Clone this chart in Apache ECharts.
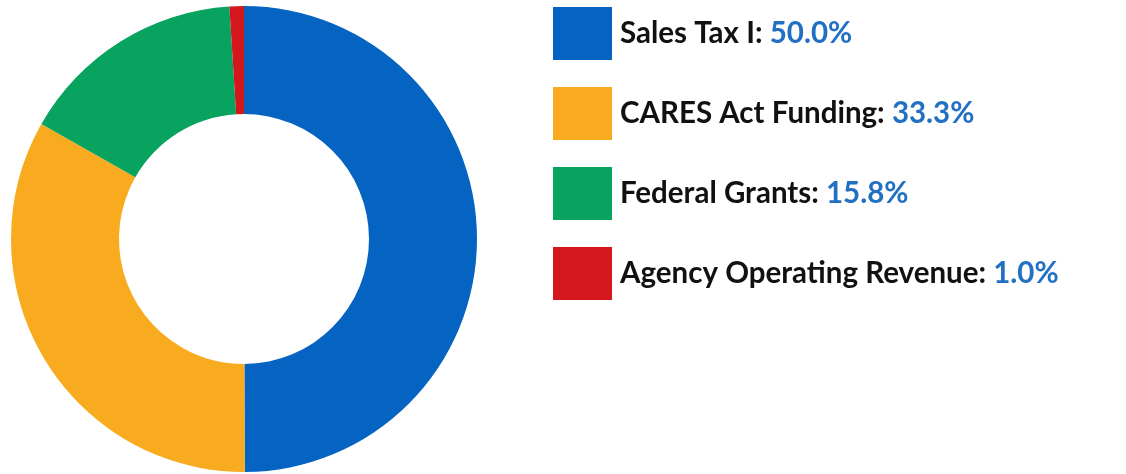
<!DOCTYPE html>
<html>
<head>
<meta charset="utf-8">
<script src="https://cdn.jsdelivr.net/npm/echarts@6/dist/echarts.min.js"></script>
<style>
  html, body { margin: 0; padding: 0; background: #fff; }
  #chart { width: 1126px; height: 474px; }
</style>
</head>
<body>
<div id="chart"></div>
<script>
// funding sources, clockwise from 12 o'clock
const categories = ['Sales Tax I', 'CARES Act Funding', 'Federal Grants', 'Agency Operating Revenue']
const shares = [50.0, 33.3, 15.8, 1.0]
const colors = ['#0563c1', '#f9ab1f', '#08a35e', '#d4161d']

const chart = echarts.init(document.getElementById('chart'), null, { renderer: 'canvas' })

chart.setOption({
	animation: false,
	color: colors,
	legend: {
		orient: 'vertical',
		left: 553,
		top: 7,
		padding: 0,
		icon: 'rect',
		itemWidth: 59,
		itemHeight: 53,
		itemGap: 27,
		selectedMode: false,
		data: categories,
		formatter: (name) => {
			const v = shares[categories.indexOf(name)]
			return '{n|' + name + ': }{v|' + v.toFixed(1) + '%}'
		},
		textStyle: {
			padding: [0, 0, 0, 3],
			rich: {
				n: { fontFamily: 'Lato', fontWeight: 'bold', fontSize: 29.5, color: '#111111' },
				v: { fontFamily: 'Lato', fontWeight: 'bold', fontSize: 29.5, color: '#2270c2' }
			}
		}
	},
	series: [
		{
			type: 'pie',
			center: [244, 239],
			radius: [125, 233],
			startAngle: 90,
			clockwise: true,
			silent: true,
			label: { show: false },
			labelLine: { show: false },
			itemStyle: { borderWidth: 0 },
			data: categories.map((name, i) => ({ name, value: shares[i] }))
		}
	]
})
</script>
</body>
</html>
